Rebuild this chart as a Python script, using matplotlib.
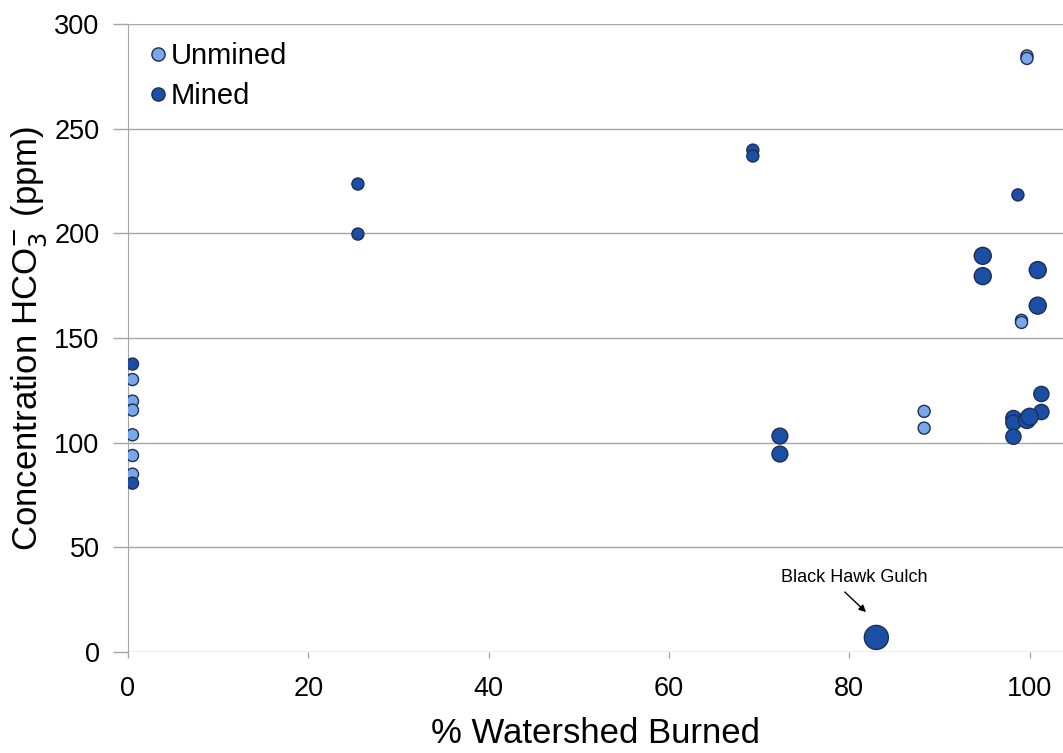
import matplotlib
matplotlib.use("Agg")
import matplotlib.pyplot as plt
from matplotlib.lines import Line2D

plt.rcParams['font.family'] = ['Liberation Sans', 'DejaVu Sans']

# Unmined sites
unmined_x = [0.5, 0.5, 0.5, 0.5, 0.5, 0.5, 88.3, 88.3, 99.7, 99.7, 99.1, 99.1]
unmined_y = [130.2, 119.9, 115.6, 103.8, 93.9, 85.0, 115.0, 107.0, 284.8, 283.6, 158.5, 157.5]
unmined_s = [75, 75, 75, 75, 75, 75, 75, 75, 75, 75, 75, 75]

# Mined sites
mined_x = [0.5, 0.5, 25.5, 25.5, 69.3, 69.3, 72.3, 72.3, 83.0,
           98.7, 94.8, 94.8, 100.9, 100.9,
           101.3, 101.3, 98.2, 98.2, 98.2, 99.7, 100.0]
mined_y = [137.6, 80.7, 223.6, 199.7, 239.8, 237.0, 103.2, 94.6, 7.0,
           218.4, 189.3, 179.6, 182.5, 165.5,
           123.3, 114.7, 111.8, 109.6, 102.9, 110.9, 112.4]
mined_s = [75, 75, 75, 75, 75, 75, 130, 130, 300,
           75, 150, 150, 150, 150,
           120, 120, 120, 120, 120, 150, 150]

x_ticks = [0, 20, 40, 60, 80, 100]
y_ticks = [0, 50, 100, 150, 200, 250, 300]

light = '#7aa7ea'
dark = '#1b4fa6'
edge = '#1c2f55'
grid_gray = '#a6a6a6'

fig = plt.figure(figsize=(10.63, 7.53), dpi=100)
ax = fig.add_axes([0.1204, 0.134, 0.8796, 0.834])

ax.scatter(unmined_x, unmined_y, s=unmined_s, c=light, edgecolors=edge,
           linewidths=1.0, zorder=3)
ax.scatter(mined_x, mined_y, s=mined_s, c=dark, edgecolors=edge,
           linewidths=1.0, zorder=4)

ax.set_xlim(0, 103.7)
ax.set_ylim(0, 300)
ax.set_xticks(x_ticks)
ax.set_yticks(y_ticks)
ax.yaxis.grid(True, color=grid_gray, linewidth=1.0)
ax.set_axisbelow(True)
for side in ['top', 'right', 'bottom']:
    ax.spines[side].set_visible(False)
ax.spines['left'].set_color(grid_gray)
ax.tick_params(axis='both', colors=grid_gray, width=1,
               labelsize=19.5, labelcolor='#000000', direction='out')
ax.tick_params(axis='y', length=10.5, pad=10)
ax.tick_params(axis='x', length=4, pad=13)

ax.set_xlabel('% Watershed Burned', fontsize=25, labelpad=11)
ax.set_ylabel('Concentration HCO$_3^{-}$ (ppm)', fontsize=25, labelpad=4)

# Label and arrow for the outlier site
ax.text(80.6, 35.4, 'Black Hawk Gulch', ha='center', va='center', fontsize=13)
ax.annotate('', xy=(81.85, 19.1), xytext=(79.5, 28.7),
            arrowprops=dict(arrowstyle='-|>', color='#000000', lw=1,
                            mutation_scale=10, shrinkA=0, shrinkB=0))

handles = [
    Line2D([], [], linestyle='none', marker='o', markersize=9.5,
           markerfacecolor=light, markeredgecolor=edge, markeredgewidth=1.0),
    Line2D([], [], linestyle='none', marker='o', markersize=9.5,
           markerfacecolor=dark, markeredgecolor=edge, markeredgewidth=1.0),
]
ax.legend(handles, ['Unmined', 'Mined'], loc='upper left', frameon=False,
          fontsize=21, handletextpad=-0.18, handlelength=1.2,
          borderaxespad=0.0, labelspacing=0.42,
          bbox_to_anchor=(0.001, 0.99))

fig.savefig('out.png', dpi=100)
